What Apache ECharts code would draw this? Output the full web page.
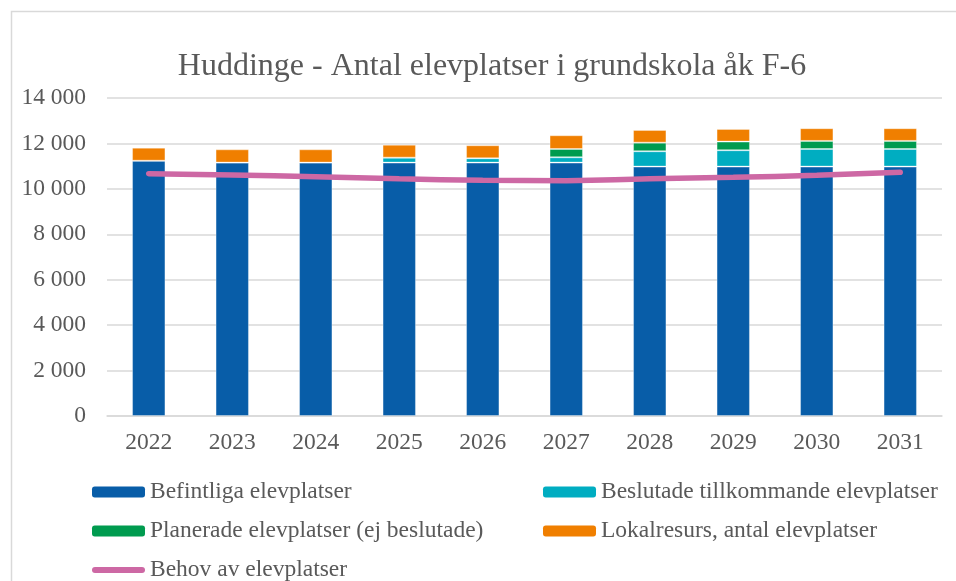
<!DOCTYPE html>
<html>
<head>
<meta charset="utf-8">
<script src="https://cdn.jsdelivr.net/npm/echarts@6/dist/echarts.min.js"></script>
<style>
  html, body { margin: 0; padding: 0; background: #fff; }
  #chart { width: 956px; height: 581px; }
</style>
</head>
<body>
<div id="chart"></div>
<script>
const years = ['2022', '2023', '2024', '2025', '2026', '2027', '2028', '2029', '2030', '2031']
const befintliga = [11240, 11155, 11155, 11155, 11155, 11155, 10980, 10980, 10980, 10980]
const beslutade = [0, 0, 0, 220, 190, 235, 675, 720, 775, 775]
const planerade = [0, 0, 0, 0, 0, 365, 380, 380, 355, 355]
const lokalresurs = [575, 585, 585, 570, 575, 605, 560, 560, 560, 560]
const behov = [10670, 10610, 10535, 10440, 10380, 10360, 10440, 10510, 10600, 10730]

const font = 'Liberation Serif'
const textColor = '#595959'
const gridColor = '#D9D9D9'
const pink = '#CD68A4'

const chart = echarts.init(document.getElementById('chart'))

function bar(name, data, color) {
  return {
    name: name,
    type: 'bar',
    stack: 'platser',
    barWidth: '40%',
    data: data,
    itemStyle: { color: color, borderColor: 'rgba(255,255,255,0.35)', borderWidth: 1 },
    animation: false
  }
}

// one legend per entry so each sits where the reference has it
function legendItem(name, left, top, icon) {
  const item = { name: name }
  if (icon) item.icon = icon
  return {
    left: left,
    top: top,
    padding: 0,
    itemWidth: 53,
    itemHeight: 11,
    itemGap: 5,
    itemStyle: { borderWidth: 0 },
    textStyle: { fontFamily: font, fontSize: 23.5, color: textColor, lineHeight: 24 },
    data: [item]
  }
}

const lineIcon = 'path://M3,0 L50,0 A3,3 0 0 1 50,6 L3,6 A3,3 0 0 1 3,0 Z'

chart.setOption({
  backgroundColor: '#fff',
  graphic: [{
    type: 'rect',
    shape: { x: 11.5, y: 11.5, width: 980, height: 620 },
    style: { fill: 'none', stroke: gridColor, lineWidth: 1.5 },
    silent: true
  }],
  title: {
    text: 'Huddinge - Antal elevplatser i grundskola åk F-6',
    left: 487,
    textAlign: 'center',
    top: 46,
    textStyle: { fontFamily: font, fontSize: 32, fontWeight: 'normal', color: textColor }
  },
  grid: { left: 107, right: 14, top: 98, bottom: 165 },
  legend: [
    legendItem('Befintliga elevplatser', 92, 480),
    legendItem('Beslutade tillkommande elevplatser', 543, 480),
    legendItem('Planerade elevplatser (ej beslutade)', 92, 519),
    legendItem('Lokalresurs, antal elevplatser', 543, 519),
    legendItem('Behov av elevplatser', 92, 558, lineIcon)
  ],
  xAxis: {
    type: 'category',
    data: years,
    axisLine: { lineStyle: { color: gridColor, width: 1.5 } },
    axisTick: { show: false },
    axisLabel: { fontFamily: font, fontSize: 23.5, color: textColor, margin: 15 }
  },
  yAxis: {
    type: 'value',
    min: 0,
    max: 14000,
    interval: 2000,
    axisLine: { show: false },
    axisTick: { show: false },
    splitLine: { lineStyle: { color: gridColor, width: 1.5 } },
    axisLabel: {
      fontFamily: font, fontSize: 23.5, color: textColor, margin: 21,
      formatter: v => String(v).replace(/\B(?=(\d{3})+(?!\d))/g, ' ')
    }
  },
  series: [
    bar('Befintliga elevplatser', befintliga, '#085DA8'),
    bar('Beslutade tillkommande elevplatser', beslutade, '#00ADC1'),
    bar('Planerade elevplatser (ej beslutade)', planerade, '#009B4F'),
    bar('Lokalresurs, antal elevplatser', lokalresurs, '#F07F00'),
    {
      name: 'Behov av elevplatser',
      type: 'line',
      data: behov,
      smooth: true,
      symbol: 'none',
      lineStyle: { color: pink, width: 5.5, cap: 'round' },
      itemStyle: { color: pink },
      z: 5,
      animation: false
    }
  ]
})
</script>
</body>
</html>
